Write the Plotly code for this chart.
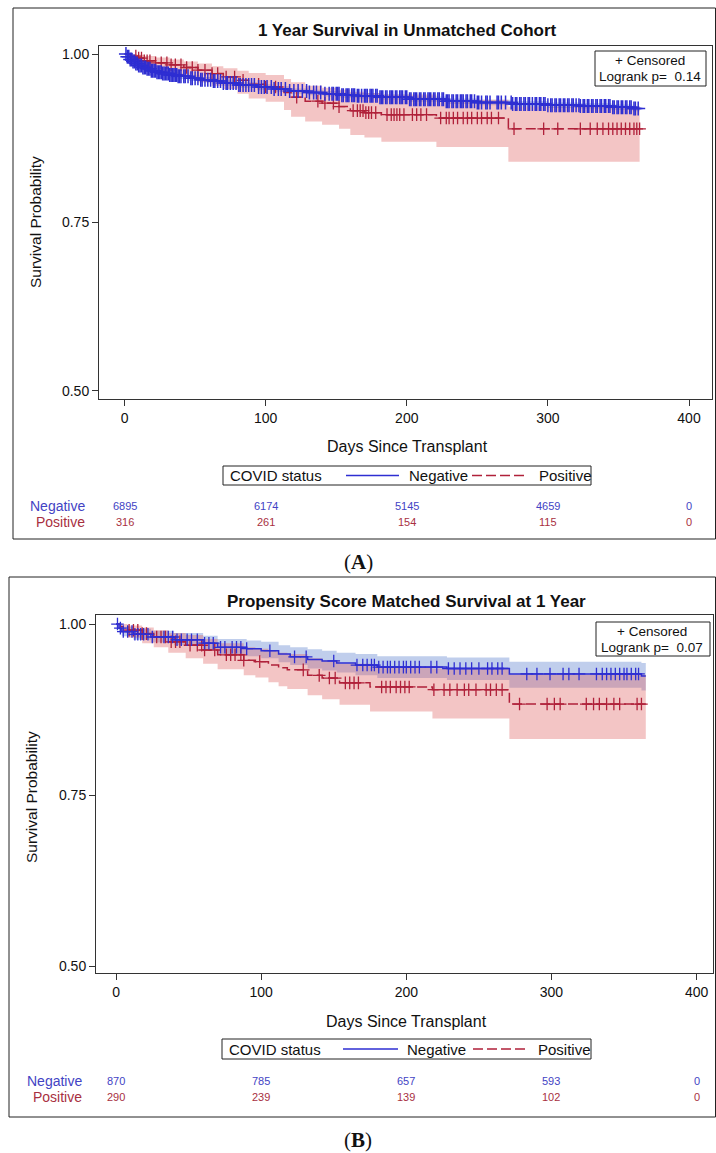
import plotly.graph_objects as go
from bisect import bisect_right

W, H = 716, 1153
END_DAY = 365

# ---------------- Panel A : unmatched cohort ----------------
a_neg_t = [0, 2, 4, 6, 8, 10, 13, 16, 19, 23, 27, 32, 38, 46, 54, 62, 70, 80, 94, 105,
           117, 130, 141, 153, 165, 181, 202, 228, 250, 275, 300, 323, 345, 360]
a_neg_s = [1.000, 0.996, 0.992, 0.989, 0.986, 0.983, 0.980, 0.978, 0.975, 0.973, 0.971,
           0.969, 0.967, 0.964, 0.962, 0.960, 0.957, 0.954, 0.951, 0.948, 0.945, 0.943,
           0.941, 0.939, 0.938, 0.936, 0.933, 0.930, 0.928, 0.926, 0.924, 0.923, 0.921, 0.919]
a_neg_hi = [1.000, 0.998, 0.995, 0.992, 0.989, 0.987, 0.984, 0.982, 0.979, 0.977, 0.975,
            0.973, 0.971, 0.968, 0.966, 0.964, 0.961, 0.958, 0.955, 0.952, 0.949, 0.947,
            0.945, 0.943, 0.942, 0.940, 0.937, 0.934, 0.932, 0.930, 0.928, 0.927, 0.925, 0.923]
a_neg_lo = [1.000, 0.994, 0.989, 0.986, 0.983, 0.979, 0.976, 0.974, 0.971, 0.969, 0.967,
            0.965, 0.963, 0.960, 0.958, 0.956, 0.953, 0.950, 0.947, 0.944, 0.941, 0.939,
            0.937, 0.935, 0.934, 0.932, 0.929, 0.926, 0.924, 0.922, 0.920, 0.919, 0.917, 0.915]
a_neg_cens = [1, 2, 3, 4, 5, 6, 7, 8, 9, 10, 11, 12, 13, 14, 15, 16, 17, 18, 19, 20, 21, 22,
              23, 24, 25, 26, 27, 28, 29, 30, 31, 32, 33, 34, 35, 36, 37, 38, 39, 40, 42, 43,
              45, 47, 48, 50, 52, 54, 55, 57, 59, 61, 63, 64, 66, 68, 70, 72, 73, 75, 77, 79,
              81, 82, 84, 86, 88, 90, 92, 95, 97, 99, 101, 104, 106, 109, 111, 114, 117, 120,
              123, 126, 129, 131, 134, 136, 139, 142, 145, 147, 148, 150, 151, 152, 154, 155,
              157, 158, 159, 161, 162, 163, 165, 166, 168, 170, 171, 172, 174, 175, 176, 178,
              179, 181, 182, 183, 185, 186, 188, 189, 190, 192, 193, 195, 196, 197, 199, 200,
              202, 203, 205, 206, 207, 209, 210, 212, 213, 215, 216, 217, 219, 220, 222, 223,
              225, 226, 228, 229, 230, 232, 233, 235, 236, 238, 239, 240, 242, 243, 245, 246,
              248, 250, 251, 253, 256, 257, 259, 264, 265, 267, 270, 274, 275, 277, 278, 280,
              281, 283, 284, 286, 287, 289, 291, 292, 294, 295, 297, 298, 300, 302, 303, 305,
              306, 308, 309, 311, 312, 314, 315, 317, 318, 320, 322, 323, 325, 326, 328, 329,
              331, 332, 334, 335, 337, 338, 340, 341, 343, 344, 346, 347, 349, 350, 352, 353,
              355, 356, 358, 359, 361, 362, 364]

a_pos_t = [0, 4, 9, 14, 22, 32, 42, 52, 62, 70, 80, 88, 100, 113, 118, 128, 140, 152, 160,
           170, 182, 221, 272]
a_pos_s = [1.000, 0.997, 0.994, 0.990, 0.987, 0.984, 0.980, 0.976, 0.971, 0.966, 0.961,
           0.955, 0.951, 0.943, 0.936, 0.930, 0.927, 0.922, 0.916, 0.913, 0.910, 0.905, 0.889]
a_pos_lo = [1.000, 0.990, 0.984, 0.978, 0.973, 0.968, 0.963, 0.958, 0.953, 0.948, 0.941,
            0.934, 0.929, 0.917, 0.907, 0.900, 0.895, 0.889, 0.880, 0.876, 0.870, 0.862, 0.840]
a_pos_hi = [1.000, 1.000, 0.999, 0.997, 0.995, 0.992, 0.989, 0.986, 0.982, 0.979, 0.975,
            0.972, 0.969, 0.963, 0.958, 0.953, 0.950, 0.947, 0.944, 0.942, 0.940, 0.932, 0.922]
a_pos_cens = [8, 10, 12, 14, 16, 18, 22, 26, 30, 33, 36, 40, 44, 48, 52, 57, 62, 66, 72, 78,
              84, 95, 100, 107, 122, 137, 142, 148, 152, 162, 165, 167, 169, 171, 173, 175,
              178, 186, 189, 191, 193, 195, 198, 204, 207, 210, 214, 224, 228, 230, 233, 236,
              240, 243, 246, 250, 253, 257, 260, 265, 276, 297, 307, 323, 330, 335, 339, 343,
              346, 349, 352, 355, 358, 361, 363, 365]

# ---------------- Panel B : propensity matched ----------------
b_neg_t = [0, 2, 4, 12, 24, 40, 60, 70, 90, 100, 112, 120, 132, 142, 152, 165, 180, 228, 271, 362]
b_neg_s = [1.000, 0.994, 0.989, 0.985, 0.981, 0.977, 0.972, 0.966, 0.964, 0.961, 0.956,
           0.952, 0.948, 0.946, 0.943, 0.940, 0.937, 0.935, 0.927, 0.924]
b_neg_lo = [1.000, 0.988, 0.982, 0.977, 0.973, 0.969, 0.963, 0.956, 0.953, 0.950, 0.944,
            0.940, 0.935, 0.932, 0.929, 0.925, 0.921, 0.918, 0.907, 0.903]
b_neg_hi = [1.000, 0.999, 0.996, 0.993, 0.990, 0.987, 0.983, 0.978, 0.976, 0.974, 0.969,
            0.966, 0.963, 0.961, 0.958, 0.956, 0.953, 0.951, 0.945, 0.943]
b_neg_cens = [1, 3, 5, 8, 11, 13, 15, 17, 19, 22, 25, 33, 36, 39, 42, 45, 49, 52, 56, 61, 64,
              67, 72, 75, 80, 83, 86, 90, 106, 123, 131, 150, 166, 170, 173, 176, 178, 181,
              184, 187, 189, 192, 195, 198, 200, 203, 206, 209, 217, 221, 229, 233, 237, 241,
              245, 250, 256, 259, 263, 266, 283, 290, 299, 308, 312, 319, 331, 335, 338, 341,
              344, 347, 350, 352, 355, 358, 360]

b_pos_t = [0, 3, 8, 18, 26, 36, 48, 60, 70, 88, 96, 105, 112, 118, 132, 142, 154, 175, 218, 271]
b_pos_s = [1.000, 0.996, 0.991, 0.986, 0.981, 0.974, 0.969, 0.962, 0.955, 0.947, 0.945,
           0.940, 0.936, 0.933, 0.925, 0.921, 0.914, 0.908, 0.904, 0.883]
b_pos_lo = [1.000, 0.988, 0.980, 0.972, 0.966, 0.958, 0.950, 0.942, 0.934, 0.925, 0.922,
            0.915, 0.909, 0.905, 0.896, 0.890, 0.882, 0.872, 0.862, 0.832]
b_pos_hi = [1.000, 1.000, 0.998, 0.995, 0.991, 0.987, 0.984, 0.978, 0.972, 0.966, 0.964,
            0.961, 0.958, 0.956, 0.950, 0.947, 0.942, 0.938, 0.935, 0.926]
b_pos_cens = [9, 12, 15, 18, 21, 28, 31, 34, 38, 41, 44, 51, 56, 59, 61, 68, 76, 79, 82, 86,
              88, 99, 129, 140, 147, 151, 158, 161, 164, 167, 183, 186, 189, 193, 196, 199,
              202, 219, 226, 230, 235, 240, 243, 248, 255, 258, 262, 266, 278, 297, 302, 306,
              324, 329, 333, 338, 343, 347, 359, 362]

# at-risk table
risk_days = [0, 100, 200, 300, 400]
a_risk_neg = [6895, 6174, 5145, 4659, 0]
a_risk_pos = [316, 261, 154, 115, 0]
b_risk_neg = [870, 785, 657, 593, 0]
b_risk_pos = [290, 239, 139, 102, 0]

titles = ["1 Year Survival in Unmatched Cohort", "Propensity Score Matched Survival at 1 Year"]
pvals = ["0.14", "0.07"]
x_ticks = [0, 100, 200, 300, 400]
y_ticks = [0.50, 0.75, 1.00]

# ---------------- styling ----------------
BLUE = "#2E2ED2"
RED = "#B0213A"
BLUE_TXT = "#4343C4"
RED_TXT = "#A8303F"
BLUE_FILL = "rgba(90,125,205,0.38)"
RED_FILL = "rgba(222,95,95,0.36)"
AX = "#333333"
FONT = "Liberation Sans, Arial, sans-serif"


def px(x):
    return x / W


def py(y):
    return 1 - y / H


def ext(t, v):
    return list(t) + [END_DAY], list(v) + [v[-1]]


def surv_at(t, s, d):
    i = bisect_right(t, d) - 1
    return s[max(i, 0)]


fig = go.Figure()


def add_band(xa, ya, t, lo, hi, fill):
    tx, lox = ext(t, lo)
    _, hix = ext(t, hi)
    fig.add_trace(go.Scatter(x=tx, y=lox, mode="lines", line=dict(width=0, shape="hv"),
                             xaxis=xa, yaxis=ya, showlegend=False, hoverinfo="skip"))
    fig.add_trace(go.Scatter(x=tx, y=hix, mode="lines", line=dict(width=0, shape="hv"),
                             fill="tonexty", fillcolor=fill, xaxis=xa, yaxis=ya,
                             showlegend=False, hoverinfo="skip"))


def add_curve(xa, ya, t, s, cens, color, dash, msize=9, mw=1.3):
    tx, sx = ext(t, s)
    fig.add_trace(go.Scatter(x=tx, y=sx, mode="lines",
                             line=dict(color=color, width=1.5, shape="hv", dash=dash),
                             xaxis=xa, yaxis=ya, showlegend=False))
    cy = [surv_at(t, s, d) for d in cens]
    fig.add_trace(go.Scatter(x=cens, y=cy, mode="markers",
                             marker=dict(symbol="cross-thin", size=msize, color=color,
                                         line=dict(color=color, width=mw)),
                             xaxis=xa, yaxis=ya, showlegend=False))


# Panel A
add_band("x", "y", a_neg_t, a_neg_lo, a_neg_hi, BLUE_FILL)
add_band("x", "y", a_pos_t, a_pos_lo, a_pos_hi, RED_FILL)
add_curve("x", "y", a_pos_t, a_pos_s, a_pos_cens, RED, "10px,4px")
add_curve("x", "y", a_neg_t, a_neg_s, a_neg_cens, BLUE, "solid", msize=10, mw=1.5)
# Panel B
add_band("x2", "y2", b_neg_t, b_neg_lo, b_neg_hi, BLUE_FILL)
add_band("x2", "y2", b_pos_t, b_pos_lo, b_pos_hi, RED_FILL)
add_curve("x2", "y2", b_pos_t, b_pos_s, b_pos_cens, RED, "10px,4px")
add_curve("x2", "y2", b_neg_t, b_neg_s, b_neg_cens, BLUE, "solid")

axis_common = dict(showline=True, linecolor=AX, linewidth=1, mirror=True, ticks="outside",
                   ticklen=6, tickcolor=AX, showgrid=False, zeroline=False,
                   tickfont=dict(family=FONT, size=14, color="#111111"))

fig.update_layout(
    width=W, height=H, margin=dict(l=0, r=0, t=0, b=0),
    paper_bgcolor="white", plot_bgcolor="white", showlegend=False,
    xaxis=dict(domain=[px(99), px(712)], range=[-18.1, 416.3], tickvals=x_ticks,
               anchor="y", **axis_common),
    yaxis=dict(domain=[py(399), py(46)], range=[0.4881, 1.0119], tickvals=y_ticks,
               tickformat=".2f", anchor="x", **axis_common),
    xaxis2=dict(domain=[px(96), px(713)], range=[-13.8, 411.3], tickvals=x_ticks,
                anchor="y2", **axis_common),
    yaxis2=dict(domain=[py(973), py(615)], range=[0.4898, 1.0132], tickvals=y_ticks,
                tickformat=".2f", anchor="x2", **axis_common),
)

shapes = []
ann = []


def box(x0, y0, x1, y1, w=1):
    shapes.append(dict(type="rect", xref="paper", yref="paper", x0=px(x0), x1=px(x1),
                       y0=py(y1), y1=py(y0), line=dict(color="#222222", width=w)))


def text(x, y, s, size=14, color="#111111", xanchor="center", bold=False, angle=0,
         family=FONT, xref="paper"):
    ann.append(dict(x=(px(x) if xref == "paper" else x), y=py(y), xref=xref, yref="paper",
                    text=(f"<b>{s}</b>" if bold else s), showarrow=False, xanchor=xanchor,
                    yanchor="middle", textangle=angle,
                    font=dict(family=family, size=size, color=color)))


def hline(x0, x1, y, color, dash="solid"):
    shapes.append(dict(type="line", xref="paper", yref="paper", x0=px(x0), x1=px(x1),
                       y0=py(y), y1=py(y), line=dict(color=color, width=1.5, dash=dash)))


panels = [
    dict(box=(13, 8, 715.5, 539), title=(408, 31), ytitle=(35, 222), xtitle=(407, 446),
         inset=(595, 51, 706, 86), inset_txt=(650, 61, 77),
         leg=(223, 466, 591, 485), legx=(228, 346, 399, 407, 472, 527, 537),
         risk=(87, 506, 522), xref="x", rn=a_risk_neg, rp=a_risk_pos, lab=(358, 562, "A")),
    dict(box=(9, 577, 715.5, 1117), title=(406, 601), ytitle=(31, 797), xtitle=(406, 1021),
         inset=(596, 622, 710, 656), inset_txt=(652, 631, 647),
         leg=(222, 1039, 591, 1059), legx=(227, 343, 398, 405, 473, 525, 536),
         risk=(84, 1081, 1097), xref="x2", rn=b_risk_neg, rp=b_risk_pos, lab=(358, 1140, "B")),
]

for i, p in enumerate(panels):
    box(*p["box"])
    text(p["title"][0], p["title"][1], titles[i], size=17, bold=True)
    text(p["ytitle"][0], p["ytitle"][1], "Survival Probability", size=15.5, angle=-90)
    text(p["xtitle"][0], p["xtitle"][1], "Days Since Transplant", size=16)
    box(*p["inset"])
    ix, iy1, iy2 = p["inset_txt"]
    text(ix, iy1, "+ Censored", size=13.5)
    text(ix, iy2, "Logrank p=\u00a0\u00a0" + pvals[i], size=13.5)
    lx0, ly0, lx1, ly1 = p["leg"]
    box(lx0, ly0, lx1, ly1)
    ly = (ly0 + ly1) / 2
    c0, b0, b1, nt, r0, r1, pt = p["legx"]
    text(c0, ly, "COVID status", size=15, xanchor="left")
    hline(b0, b1, ly, BLUE)
    text(nt, ly, "Negative", size=15, xanchor="left")
    hline(r0, r1, ly, RED, dash="10px,4px")
    text(pt, ly, "Positive", size=15, xanchor="left")
    rx, rny, rpy = p["risk"]
    text(rx, rny, "Negative", size=14, color=BLUE_TXT, xanchor="right")
    text(rx, rpy, "Positive", size=14, color=RED_TXT, xanchor="right")
    for d, vn, vp in zip(risk_days, p["rn"], p["rp"]):
        text(d, rny, str(vn), size=11, color=BLUE_TXT, xref=p["xref"])
        text(d, rpy, str(vp), size=11, color=RED_TXT, xref=p["xref"])
    lx, lyy, letter = p["lab"]
    text(lx, lyy, f"(<b>{letter}</b>)", size=21, family="Liberation Serif, Times New Roman, serif")

fig.update_layout(shapes=shapes, annotations=ann)
fig.write_html(
    "out.html",
    config={"displayModeBar": False},
    post_script="document.body.style.margin='0';document.body.style.overflow='hidden';"
                "document.documentElement.style.overflow='hidden';",
)
